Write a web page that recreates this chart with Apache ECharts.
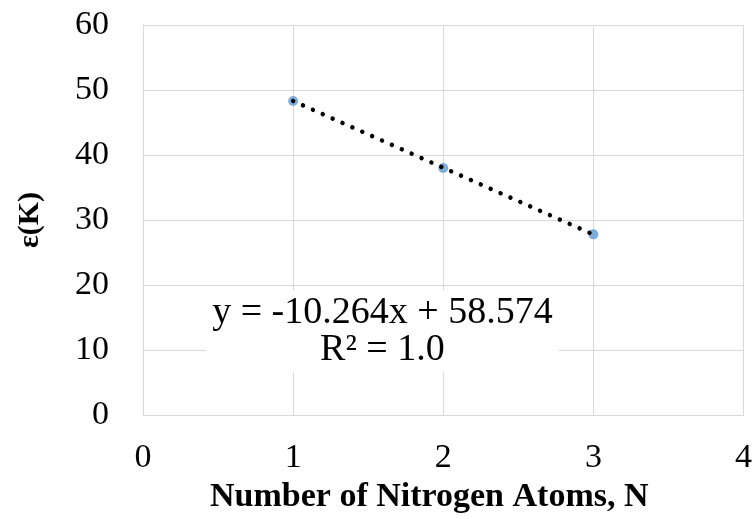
<!DOCTYPE html>
<html>
<head>
<meta charset="utf-8">
<script src="https://cdn.jsdelivr.net/npm/echarts@6/dist/echarts.min.js"></script>
<style>
html,body{margin:0;padding:0;background:#fff;}
#chart{width:755px;height:519px;}
</style>
</head>
<body>
<div id="chart"></div>
<script>
// Data
var nitrogenAtoms = [1, 2, 3];
var epsilonK = [48.3, 38.0, 27.8];
var trendX = [1, 3];
var trendY = [48.31, 27.78];
var xTicks = [0, 1, 2, 3, 4];
var yTicks = [0, 10, 20, 30, 40, 50, 60];
var equationLines = ['y = -10.264x + 58.574', 'R² = 1.0'];

var FONT = '"Liberation Serif", "Times New Roman", serif';
var chart = echarts.init(document.getElementById('chart'), null, {renderer: 'canvas'});

var option = {
  animation: false,
  backgroundColor: '#ffffff',
  grid: {left: 143, right: 10, top: 25, bottom: 100, containLabel: false},
  xAxis: {
    type: 'value',
    min: xTicks[0], max: xTicks[xTicks.length - 1], interval: 1,
    name: 'Number of Nitrogen Atoms, N',
    nameLocation: 'middle',
    nameGap: 62,
    nameTextStyle: {fontFamily: FONT, fontSize: 34, fontWeight: 'bold', color: '#000', padding: [0, 28, 0, 0]},
    axisLine: {show: true, lineStyle: {color: '#d9d9d9', width: 1}},
    axisTick: {show: false},
    axisLabel: {fontFamily: FONT, fontSize: 34, color: '#000', margin: 26},
    splitLine: {show: true, lineStyle: {color: '#d9d9d9', width: 1}}
  },
  yAxis: {
    type: 'value',
    min: yTicks[0], max: yTicks[yTicks.length - 1], interval: 10,
    name: 'ε(K)',
    nameLocation: 'middle',
    nameGap: 98,
    nameRotate: 90,
    nameTextStyle: {fontFamily: FONT, fontSize: 30, fontWeight: 'bold', color: '#000'},
    axisLine: {show: true, lineStyle: {color: '#d9d9d9', width: 1}},
    axisTick: {show: false},
    axisLabel: {fontFamily: FONT, fontSize: 34, color: '#000', margin: 34},
    splitLine: {show: true, lineStyle: {color: '#d9d9d9', width: 1}}
  },
  series: [
    {
      type: 'scatter',
      data: nitrogenAtoms.map(function (x, i) { return [x, epsilonK[i]]; }),
      symbol: 'circle',
      symbolSize: 10,
      itemStyle: {color: '#5B9BD5'},
      z: 2
    },
    {
      type: 'line',
      data: trendX.map(function (x, i) { return [x, trendY[i]]; }),
      showSymbol: false,
      symbol: 'none',
      lineStyle: {color: '#000', width: 4.5, type: [0.01, 10.8], cap: 'round'},
      z: 3
    }
  ]
};
chart.setOption(option);

// Equation label (text box over the gridlines)
var p = chart.convertToPixel({gridIndex: 0}, [1.595, 12.9]);
chart.setOption({
  graphic: [{
    type: 'text',
    x: p[0], y: p[1],
    z: 10,
    style: {
      text: equationLines.join('\n'),
      fontFamily: FONT,
      fontSize: 38,
      lineHeight: 37,
      fill: '#000',
      align: 'center',
      verticalAlign: 'middle',
      backgroundColor: '#ffffff',
      padding: [4, 6, 4, 6]
    }
  }]
});
</script>
</body>
</html>
